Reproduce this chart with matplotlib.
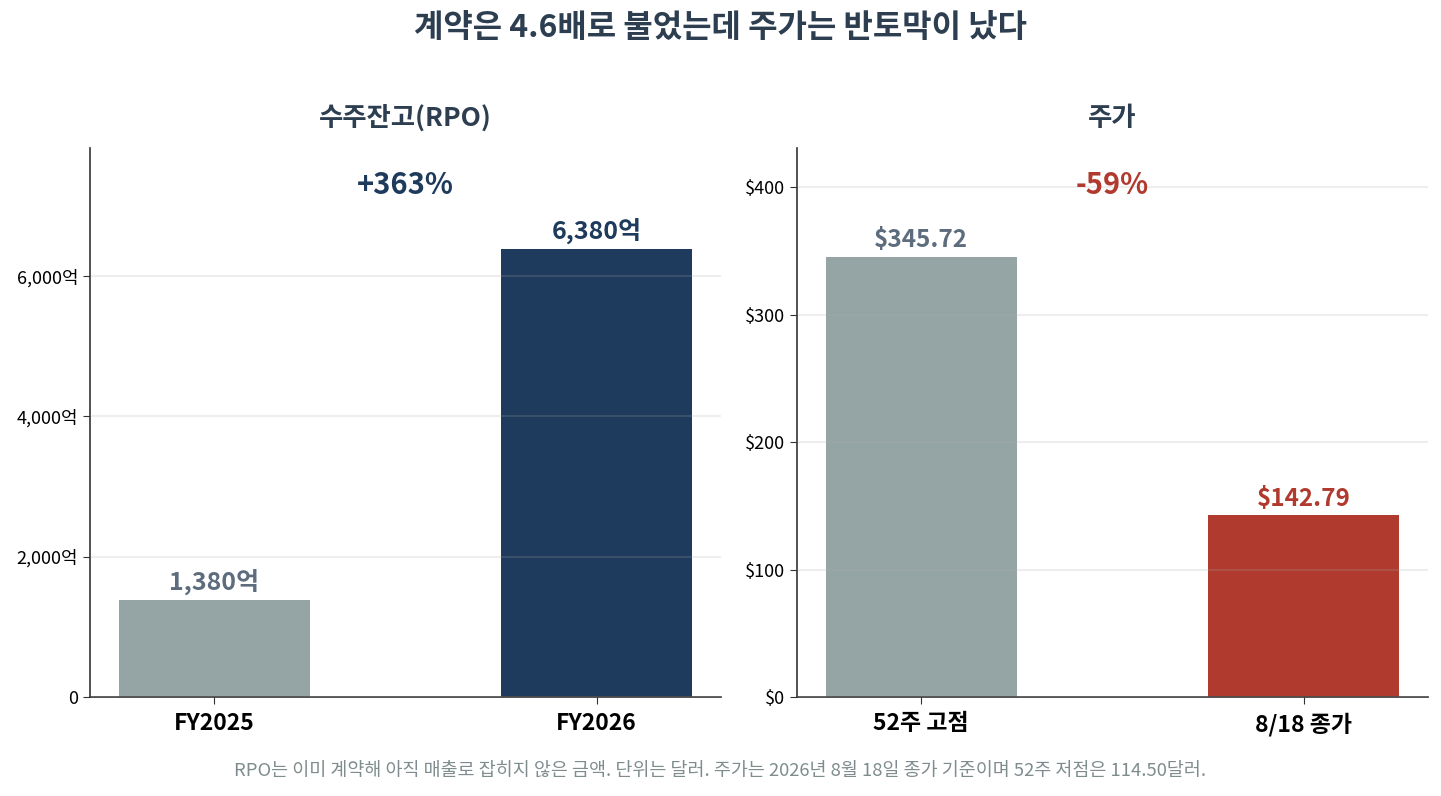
import matplotlib.pyplot as plt
from matplotlib.ticker import FuncFormatter

plt.rcParams['font.family'] = ['Noto Sans CJK KR', 'DejaVu Sans']

# --- data ---
rpo_labels = ['FY2025', 'FY2026']
rpo_values = [1380, 6380]
price_labels = ['52주 고점', '8/18 종가']
price_values = [345.72, 142.79]

GRAY = '#95a5a6'
NAVY = '#1e3a5c'
RED = '#b03a2e'
LABEL_GRAY = '#5d6d7e'
TITLE = '#2c3e50'

fig = plt.figure(figsize=(14.41, 7.96), dpi=100)
ax1 = fig.add_axes([90 / 1441, 99 / 796, 631 / 1441, 549 / 796])
ax2 = fig.add_axes([797 / 1441, 99 / 796, 631 / 1441, 549 / 796])


def style(ax):
    for s in ['top', 'right']:
        ax.spines[s].set_visible(False)
    for s in ['left', 'bottom']:
        ax.spines[s].set_color('#333333')
        ax.spines[s].set_linewidth(1.2)
    ax.grid(axis='y', color='#aaaaaa', alpha=0.2, linewidth=1.5)
    ax.set_axisbelow(False)
    ax.tick_params(axis='y', labelsize=13, length=5, color='#333333')
    ax.tick_params(axis='x', length=5, color='#333333', pad=6)
    for t in ax.get_xticklabels():
        t.set_fontsize(16.5)
        t.set_fontweight('bold')


# 수주잔고
ax1.bar(range(2), rpo_values, width=0.5, color=[GRAY, NAVY])
ax1.set_ylim(0, 7824)
ax1.set_yticks([0, 2000, 4000, 6000])
ax1.yaxis.set_major_formatter(FuncFormatter(lambda v, p: '0' if v == 0 else f'{v:,.0f}억'))
ax1.set_xticks(range(2))
ax1.set_xticklabels(rpo_labels)
style(ax1)
for i, v in enumerate(rpo_values):
    ax1.text(i, v + 80, f'{v:,}억', ha='center', va='bottom', fontsize=18,
             fontweight='bold', color=[LABEL_GRAY, NAVY][i])
ax1.text(0.5, 0.933, '+363%', transform=ax1.transAxes, ha='center', va='center',
         fontsize=21, fontweight='bold', color=NAVY)
ax1.set_title('수주잔고(RPO)', fontsize=19, fontweight='bold', color=TITLE, pad=16)

# 주가
ax2.bar(range(2), price_values, width=0.5, color=[GRAY, RED])
ax2.set_ylim(0, 431)
ax2.set_yticks([0, 100, 200, 300, 400])
ax2.yaxis.set_major_formatter(FuncFormatter(lambda v, p: f'${v:,.0f}'))
ax2.set_xticks(range(2))
ax2.set_xticklabels(price_labels)
style(ax2)
for i, v in enumerate(price_values):
    ax2.text(i, v + 3.5, f'${v:.2f}', ha='center', va='bottom', fontsize=17.5,
             fontweight='bold', color=[LABEL_GRAY, RED][i])
ax2.text(0.5, 0.933, '-59%', transform=ax2.transAxes, ha='center', va='center',
         fontsize=21, fontweight='bold', color=RED)
ax2.set_title('주가', fontsize=19, fontweight='bold', color=TITLE, pad=16)

fig.suptitle('계약은 4.6배로 불었는데 주가는 반토막이 났다', x=0.5, y=1 - 28 / 796,
             va='center', fontsize=23, fontweight='bold', color=TITLE)
fig.text(0.5, 1 - 771 / 796, 'RPO는 이미 계약해 아직 매출로 잡히지 않은 금액. 단위는 달러. '
         '주가는 2026년 8월 18일 종가 기준이며 52주 저점은 114.50달러.',
         ha='center', va='center', fontsize=13.3, color='#7f8c8d')

fig.savefig('out.png', dpi=100)
